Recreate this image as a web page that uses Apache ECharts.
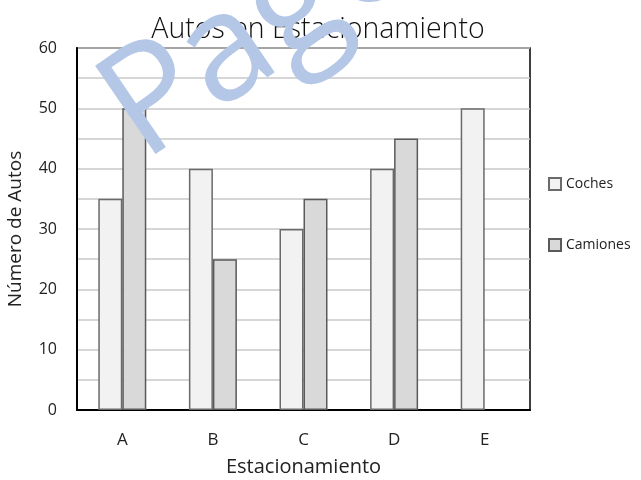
<!DOCTYPE html>
<html>
<head>
<meta charset="utf-8">
<script src="https://cdn.jsdelivr.net/npm/echarts@6/dist/echarts.min.js"></script>
<style>html,body{margin:0;padding:0;background:#fff}#c{width:641px;height:480px}</style>
</head>
<body>
<div id="c"></div>
<script>
const categories = ['A', 'B', 'C', 'D', 'E'];
const coches = [35, 40, 30, 40, 50];
const camiones = [50, 25, 35, 45, null];
const yTicks = [0, 10, 20, 30, 40, 50, 60];

const FONT = '"Open Sans", "Noto Sans", sans-serif';
const WM_ROT = 0.6;
const chart = echarts.init(document.getElementById('c'));
chart.setOption({
  animation: false,
  backgroundColor: '#fff',
  title: {
    text: 'Autos en Estacionamiento',
    left: 313, top: 10, textAlign: 'center',
    textStyle: { fontFamily: FONT, fontSize: 28.5, fontWeight: 300, color: '#111' }
  },
  legend: {
    orient: 'vertical', left: 543, top: 172, itemGap: 47,
    itemWidth: 12, itemHeight: 12, icon: 'rect',
    textStyle: { fontFamily: FONT, fontSize: 14, color: '#222' },
    data: ['Coches', 'Camiones']
  },
  grid: {
    left: 77, right: 111, top: 48, bottom: 70, outerBoundsMode: 'none',
    containLabel: false,
    show: true, borderColor: '#000', borderWidth: 1.5, backgroundColor: 'transparent'
  },
  xAxis: {
    type: 'category', data: categories,
    name: 'Estacionamiento', nameLocation: 'middle', nameGap: 47,
    nameTextStyle: { fontFamily: FONT, fontSize: 20, color: '#222' },
    axisLine: { lineStyle: { color: '#000', width: 2 } },
    axisTick: { show: false },
    axisLabel: { margin: 22, fontFamily: FONT, fontSize: 17, color: '#222' }
  },
  yAxis: {
    type: 'value', min: 0, max: 60, interval: 5,
    name: 'Número de Autos', nameLocation: 'middle', nameGap: 52,
    nameTextStyle: { fontFamily: FONT, fontSize: 19, color: '#222' },
    axisLine: { show: true, lineStyle: { color: '#000', width: 2 } },
    axisTick: { show: false },
    axisLabel: {
      margin: 20, fontFamily: FONT, fontSize: 16, color: '#222',
      formatter: v => (yTicks.indexOf(v) >= 0 ? String(v) : '')
    },
    splitLine: { lineStyle: { color: '#c8c8c8', width: 1.5 } }
  },
  series: [
    {
      name: 'Coches', type: 'bar', data: coches, barWidth: 24, barGap: '0%',
      itemStyle: { color: '#f2f2f2', borderColor: '#6a6a6a', borderWidth: 1.5 }
    },
    {
      name: 'Camiones', type: 'bar', data: camiones, barWidth: 24,
      itemStyle: { color: '#d9d9d9', borderColor: '#5a5a5a', borderWidth: 1.5 }
    }
  ],
  graphic: [
    {
      type: 'text', x: 77, y: 65, rotation: WM_ROT, z: 100,
      style: { text: 'P', fontFamily: FONT, fontSize: 150, fill: '#b4c7e7' }
    },
    {
      type: 'text', x: 77 + 88 * Math.cos(WM_ROT), y: 65 - 88 * Math.sin(WM_ROT), rotation: WM_ROT, z: 100,
      style: { text: 'age 1', fontFamily: FONT, fontSize: 150, fill: '#b4c7e7' }
    }
  ]
});
</script>
</body>
</html>
